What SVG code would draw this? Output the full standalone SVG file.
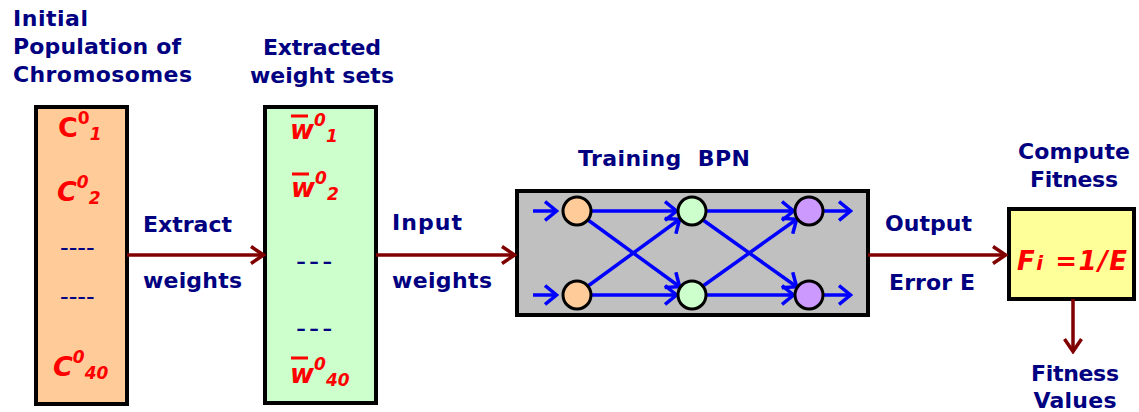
<svg xmlns="http://www.w3.org/2000/svg" width="1139" height="412" viewBox="0 0 1139 412">
<style>
.lbl{font-family:"DejaVu Sans",Verdana,sans-serif;font-weight:bold;font-size:22px;fill:#000080}
.red{font-family:"DejaVu Sans",Verdana,sans-serif;font-weight:bold;font-style:italic;fill:#FF0000}
.dash{font-family:"DejaVu Sans",Verdana,sans-serif;fill:#000080}
.box{stroke:#000;stroke-width:4}
.conn{stroke:#800000;stroke-width:3.5;fill:none}
.nn{stroke:#0000FF;stroke-width:3.5;fill:none}
.neu{stroke:#000;stroke-width:3}
</style>
<defs>
<marker id="ah" viewBox="0 0 16 20" refX="14.5" refY="10" markerWidth="16" markerHeight="20" markerUnits="userSpaceOnUse" orient="auto">
<path d="M1.5,1.5 L14,10 L1.5,18.5" fill="none" stroke="#800000" stroke-width="3.5"/>
</marker>
<marker id="bh" viewBox="0 0 15 22" refX="13.5" refY="11" markerWidth="15" markerHeight="22" markerUnits="userSpaceOnUse" orient="auto">
<path d="M1.5,1.5 L13,11 L1.5,20.5" fill="none" stroke="#0000FF" stroke-width="3.5"/>
</marker>
</defs>

<g id="chromosomes">
<text class="lbl" x="13" y="26" textLength="75">Initial</text>
<text class="lbl" x="13" y="54" textLength="168">Population of</text>
<text class="lbl" x="13" y="82" textLength="179">Chromosomes</text>
<rect class="box" x="36" y="107" width="91" height="297" fill="#FFCC99"/>
<text class="red" x="58" y="137" font-size="27" style="font-style:normal">C<tspan font-size="17" dy="-13">0</tspan><tspan font-size="17" dy="16" style="font-style:italic">1</tspan></text>
<text class="red" x="57" y="201" font-size="27">C<tspan font-size="17" dy="-13">0</tspan><tspan font-size="17" dy="16">2</tspan></text>
<text class="dash" x="60" y="256" font-size="24">----</text>
<text class="dash" x="60" y="305" font-size="24">----</text>
<text class="red" x="53" y="376" font-size="27">C<tspan font-size="17" dy="-13">0</tspan><tspan font-size="17" dy="16">40</tspan></text>
</g>

<g id="weightsets">
<text class="lbl" x="322" y="55" text-anchor="middle" textLength="118">Extracted</text>
<text class="lbl" x="322" y="83" text-anchor="middle" textLength="144">weight sets</text>
<rect class="box" x="265" y="107" width="111" height="296" fill="#CCFFCC"/>
<line x1="291" y1="116" x2="308" y2="116" stroke="#FF0000" stroke-width="3"/>
<text class="red" x="290" y="139" font-size="26">w<tspan font-size="17" dy="-13">0</tspan><tspan font-size="17" dy="16">1</tspan></text>
<line x1="292" y1="174" x2="309" y2="174" stroke="#FF0000" stroke-width="3"/>
<text class="red" x="291" y="197" font-size="26">w<tspan font-size="17" dy="-13">0</tspan><tspan font-size="17" dy="16">2</tspan></text>
<text class="dash" x="296" y="271" font-size="28" letter-spacing="3">---</text>
<text class="dash" x="296" y="338" font-size="28" letter-spacing="3">---</text>
<line x1="291" y1="358" x2="308" y2="358" stroke="#FF0000" stroke-width="3"/>
<text class="red" x="290" y="383" font-size="26">w<tspan font-size="17" dy="-13">0</tspan><tspan font-size="17" dy="16">40</tspan></text>
</g>

<g id="bpn">
<text class="lbl" x="578" y="166" textLength="172" xml:space="preserve">Training  BPN</text>
<rect class="box" x="517" y="191" width="351" height="124" fill="#C0C0C0"/>
<g class="nn">
<line x1="533" y1="211" x2="557" y2="211" marker-end="url(#bh)"/>
<line x1="533" y1="295" x2="557" y2="295" marker-end="url(#bh)"/>
<line x1="591" y1="211" x2="677" y2="211" marker-end="url(#bh)"/>
<line x1="588" y1="220" x2="680" y2="287" marker-end="url(#bh)"/>
<line x1="588" y1="286" x2="680" y2="219" marker-end="url(#bh)"/>
<line x1="591" y1="295" x2="677" y2="295" marker-end="url(#bh)"/>
<line x1="706" y1="211" x2="794" y2="211" marker-end="url(#bh)"/>
<line x1="703" y1="220" x2="797" y2="287" marker-end="url(#bh)"/>
<line x1="703" y1="286" x2="797" y2="219" marker-end="url(#bh)"/>
<line x1="706" y1="295" x2="794" y2="295" marker-end="url(#bh)"/>
<line x1="823" y1="211" x2="851" y2="211" marker-end="url(#bh)"/>
<line x1="823" y1="295" x2="851" y2="295" marker-end="url(#bh)"/>
</g>
<circle class="neu" cx="577" cy="211" r="14" fill="#FFCC99"/>
<circle class="neu" cx="577" cy="295" r="14" fill="#FFCC99"/>
<circle class="neu" cx="692" cy="211" r="14" fill="#CCFFCC"/>
<circle class="neu" cx="692" cy="295" r="14" fill="#CCFFCC"/>
<circle class="neu" cx="809" cy="211" r="14" fill="#CC99FF"/>
<circle class="neu" cx="809" cy="295" r="14" fill="#CC99FF"/>
</g>

<g id="fitness">
<text class="lbl" x="1074" y="159" text-anchor="middle" textLength="112">Compute</text>
<text class="lbl" x="1074" y="187" text-anchor="middle" textLength="88">Fitness</text>
<rect class="box" x="1009" y="209" width="125" height="90" fill="#FFFF99"/>
<text class="red" x="1017" y="270" font-size="26" textLength="110" xml:space="preserve">F<tspan font-size="20">i</tspan> =1/E</text>
</g>

<g id="values">
<text class="lbl" x="1075" y="381" text-anchor="middle" textLength="88">Fitness</text>
<text class="lbl" x="1075" y="408" text-anchor="middle" textLength="83">Values</text>
</g>

<g id="connectors">
<line class="conn" x1="127" y1="255" x2="264" y2="255" marker-end="url(#ah)"/>
<text class="lbl" x="143" y="232" textLength="89">Extract</text>
<text class="lbl" x="143" y="288" textLength="99">weights</text>
<line class="conn" x1="376" y1="255" x2="515" y2="255" marker-end="url(#ah)"/>
<text class="lbl" x="392" y="230" textLength="70">Input</text>
<text class="lbl" x="392" y="288" textLength="100">weights</text>
<line class="conn" x1="868" y1="255" x2="1006" y2="255" marker-end="url(#ah)"/>
<text class="lbl" x="885" y="231" textLength="87">Output</text>
<text class="lbl" x="889" y="290" textLength="86">Error E</text>
<line class="conn" x1="1073" y1="299" x2="1073" y2="352" marker-end="url(#ah)"/>
</g>
</svg>
